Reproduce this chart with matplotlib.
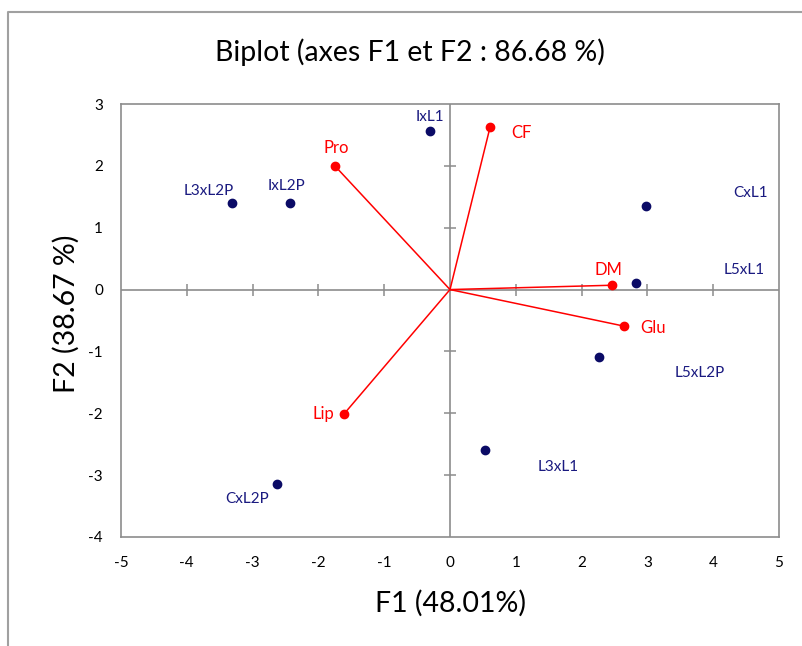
import matplotlib
matplotlib.use("Agg")
import matplotlib.pyplot as plt
from matplotlib.lines import Line2D

plt.rcParams["font.family"] = ["Lato", "DejaVu Sans"]
plt.rcParams["axes.unicode_minus"] = False

# observations (F1, F2)
obs_names = ["IxL1", "IxL2P", "L3xL2P", "CxL1", "L5xL1", "L5xL2P", "L3xL1", "CxL2P"]
obs_f1 = [-0.30, -2.43, -3.31, 2.98, 2.83, 2.26, 0.53, -2.63]
obs_f2 = [2.56, 1.40, 1.40, 1.35, 0.11, -1.09, -2.59, -3.14]

# variables (F1, F2)
var_names = ["Pro", "CF", "DM", "Glu", "Lip"]
var_f1 = [-1.75, 0.61, 2.46, 2.64, -1.61]
var_f2 = [2.00, 2.63, 0.07, -0.59, -2.01]

x_ticks = [-5, -4, -3, -2, -1, 0, 1, 2, 3, 4, 5]
y_ticks = [-4, -3, -2, -1, 0, 1, 2, 3]

# label offsets in pixels (dx, dy)
obs_off = [(0, 14), (-4, 17), (-23, 12), (104, 13), (108, 13), (101, -16), (73, -17), (-30, -15)]
var_off = [(1, 18), (31, -6), (-3, 15), (29, -2), (-21, 0)]

NAVY = "#0b0b66"
LBL = "#1a1a80"
RED = "#ff0000"
GRAY = "#8c8c8c"

W, H = 803, 646
fig = plt.figure(figsize=(W / 100, H / 100), dpi=100)
ax = fig.add_axes([121 / W, (H - 537) / H, 658 / W, 433 / H])

# outer chart frame (left and top edges visible)
fig.add_artist(Line2D([8 / W, 8 / W, 1.0], [0.0, 1 - 12 / H, 1 - 12 / H],
                      transform=fig.transFigure, color="#a0a0a0", lw=1.5))

ax.set_xlim(x_ticks[0], x_ticks[-1])
ax.set_ylim(y_ticks[0], y_ticks[-1])
for s in ax.spines.values():
    s.set_color(GRAY)
    s.set_linewidth(1.2)
ax.set_xticks(x_ticks)
ax.set_yticks(y_ticks)
ax.tick_params(length=0, labelsize=11, colors="black")
ax.tick_params(axis="x", pad=14)
ax.tick_params(axis="y", pad=13)

# centre axes with crossing ticks
ax.axhline(0, color=GRAY, lw=1.2, zorder=1)
ax.axvline(0, color=GRAY, lw=1.2, zorder=1)
xt = [t for t in x_ticks[1:-1] if t != 0]
yt = [t for t in y_ticks[1:-1] if t != 0]
ax.plot(xt, [0] * len(xt), ls="none", marker="|", ms=9, mew=1.1, color=GRAY, zorder=1)
ax.plot([0] * len(yt), yt, ls="none", marker="_", ms=9, mew=1.1, color=GRAY, zorder=1)

# variable vectors
for x, y in zip(var_f1, var_f2):
    ax.plot([0, x], [0, y], color=RED, lw=1.1, zorder=2)
ax.plot(var_f1, var_f2, "o", color=RED, ms=6, zorder=3)
for name, x, y, (dx, dy) in zip(var_names, var_f1, var_f2, var_off):
    ax.annotate(name, (x, y), xytext=(dx * 0.72, dy * 0.72), textcoords="offset points",
                ha="center", va="center", color=RED, fontsize=12)

# observations
ax.plot(obs_f1, obs_f2, "o", color=NAVY, ms=6, zorder=3)
for name, x, y, (dx, dy) in zip(obs_names, obs_f1, obs_f2, obs_off):
    ax.annotate(name, (x, y), xytext=(dx * 0.72, dy * 0.72), textcoords="offset points",
                ha="center", va="center", color=LBL, fontsize=11)

fig.text(410 / W, 1 - 52 / H, "Biplot (axes F1 et F2 : 86.68 %)", ha="center",
         va="center", fontsize=20.5)
fig.text(451 / W, 1 - 603 / H, "F1 (48.01%)", ha="center", va="center", fontsize=20.5)
fig.text(66 / W, 1 - 314 / H, "F2 (38.67 %)", ha="center", va="center",
         rotation=90, fontsize=20.5)

fig.savefig("out.png", dpi=100)
